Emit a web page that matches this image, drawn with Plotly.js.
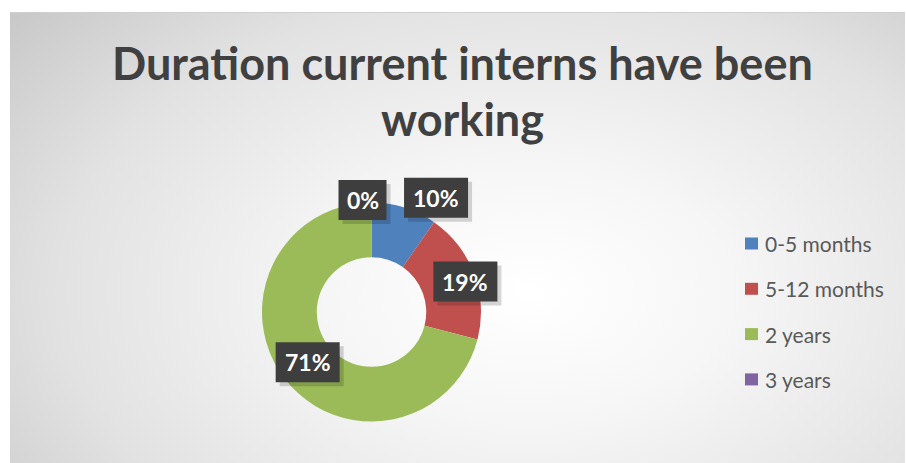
<!DOCTYPE html>
<html>
<head>
<meta charset="utf-8">
<script src="https://cdn.plot.ly/plotly-3.0.1.min.js"></script>
<style>
  html, body { margin: 0; padding: 0; background: #ffffff; }
  #wrap { position: relative; width: 906px; height: 463px; overflow: hidden; }
  #frame { position: absolute; left: 10px; top: 12px; width: 895px; height: 451px;
    border-top: 1px solid #cfcfcf;
    background: radial-gradient(ellipse 75% 95% at 58% 62%, #ffffff 0%, #f6f6f6 30%, #e2e2e2 70%, #c9c9c9 100%); }
  #chart { position: absolute; left: 0; top: 0; width: 906px; height: 463px; }
</style>
</head>
<body>
<div id="wrap"><div id="frame"></div><div id="chart"></div></div>
<script>
// ---- data ----
const categories = ["0-5 months", "5-12 months", "2 years", "3 years"];
const counts = [3, 6, 22, 0];
const sliceColors = ["#4F81BD", "#C0504D", "#9BBB59", "#8064A2"];
const titleLines = ["Duration current interns have been", "working"];

// ---- layout helpers ----
const W = 906, H = 463;
const px = x => x / W;
const py = y => 1 - y / H;
const cx = 371.5, cy = 312, R = 109.5;
const labelR = 82;
// label offsets (pixels) from mid-ring point, mimicking Excel best-fit
const labelShift = [[40, -36], [17, -2], [1, 0], [-9, -30]];
const FONT = "Lato, 'Open Sans', sans-serif";

const total = counts.reduce((a, b) => a + b, 0);
const annotations = [];
const shapes = [];
let cum = 0;
counts.forEach((v, i) => {
  const mid = (cum + v / 2) / total * 2 * Math.PI;
  cum += v;
  const lx = cx + labelR * Math.sin(mid) + labelShift[i][0];
  const ly = cy - labelR * Math.cos(mid) + labelShift[i][1];
  const pct = Math.round(v / total * 100) + "%";
  const bw = pct.length > 2 ? 64 : 48, bh = 40;
  shapes.push({type: "rect", xref: "paper", yref: "paper",
    x0: px(lx - bw / 2 + 4), x1: px(lx + bw / 2 + 4), y0: py(ly + bh / 2 + 4), y1: py(ly - bh / 2 + 4),
    fillcolor: "rgba(0,0,0,0.16)", line: {width: 0}, layer: "above"});
  shapes.push({type: "rect", xref: "paper", yref: "paper",
    x0: px(lx - bw / 2), x1: px(lx + bw / 2), y0: py(ly + bh / 2), y1: py(ly - bh / 2),
    fillcolor: "#3e3e3e", line: {width: 0}, layer: "above"});
  annotations.push({xref: "paper", yref: "paper", x: px(lx), y: py(ly),
    text: "<b>" + pct + "</b>", showarrow: false, xanchor: "center", yanchor: "middle",
    font: {family: FONT, size: 23, color: "#ffffff"}});
});

// legend drawn manually
categories.forEach((c, i) => {
  const ly = 243.5 + i * 45.3;
  shapes.push({type: "rect", xref: "paper", yref: "paper",
    x0: px(745), x1: px(758), y0: py(ly + 6), y1: py(ly - 6),
    fillcolor: sliceColors[i], line: {width: 0}});
  annotations.push({xref: "paper", yref: "paper", x: px(763), y: py(ly),
    text: c, showarrow: false, xanchor: "left", yanchor: "middle",
    font: {family: FONT, size: 21, color: "#595959"}});
});

// title lines
titleLines.forEach((t, i) => {
  annotations.push({xref: "paper", yref: "paper", x: px(462), y: py(63 + i * 56),
    text: "<b>" + t + "</b>", showarrow: false, xanchor: "center", yanchor: "middle",
    font: {family: FONT, size: 45, color: "#404040"}});
});

const trace = {
  type: "pie",
  labels: categories,
  values: counts,
  hole: 0.5,
  sort: false,
  direction: "clockwise",
  rotation: 0,
  textinfo: "none",
  marker: {colors: sliceColors, line: {width: 0}},
  domain: {x: [px(cx - R), px(cx + R)], y: [py(cy + R), py(cy - R)]},
  showlegend: false,
  hoverinfo: "label+percent"
};

const layout = {
  width: W, height: H,
  margin: {l: 0, r: 0, t: 0, b: 0},
  paper_bgcolor: "rgba(0,0,0,0)",
  plot_bgcolor: "rgba(0,0,0,0)",
  showlegend: false,
  annotations: annotations,
  shapes: shapes
};

Plotly.newPlot("chart", [trace], layout, {displayModeBar: false, staticPlot: true});
</script>
</body>
</html>
